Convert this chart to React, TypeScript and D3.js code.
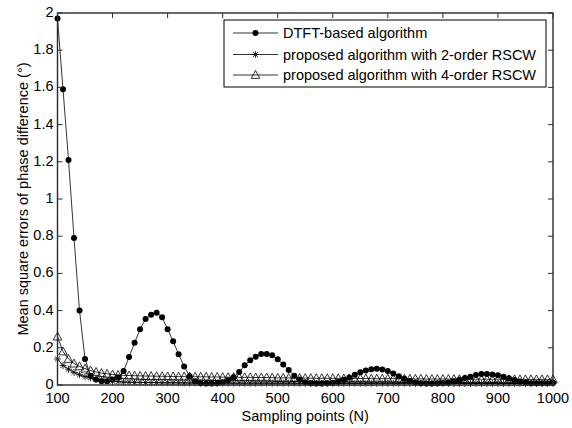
import React from "react";
import * as d3 from "d3";

const samplingPoints: number[] = [
  100, 110, 120, 130, 140, 150, 160, 170, 180, 190,
  200, 210, 220, 230, 240, 250, 260, 270, 280, 290,
  300, 310, 320, 330, 340, 350, 360, 370, 380, 390,
  400, 410, 420, 430, 440, 450, 460, 470, 480, 490,
  500, 510, 520, 530, 540, 550, 560, 570, 580, 590,
  600, 610, 620, 630, 640, 650, 660, 670, 680, 690,
  700, 710, 720, 730, 740, 750, 760, 770, 780, 790,
  800, 810, 820, 830, 840, 850, 860, 870, 880, 890,
  900, 910, 920, 930, 940, 950, 960, 970, 980, 990, 1000,
];

const dtftValues: number[] = [
  1.97, 1.59, 1.21, 0.79, 0.40, 0.14, 0.05, 0.03, 0.02, 0.02,
  0.03, 0.04, 0.075, 0.15, 0.227, 0.30, 0.355, 0.378, 0.389, 0.364,
  0.30, 0.235, 0.165, 0.10, 0.047, 0.02, 0.01, 0.008, 0.008, 0.01,
  0.015, 0.025, 0.041, 0.07, 0.106, 0.133, 0.152, 0.167, 0.167, 0.16,
  0.138, 0.11, 0.08, 0.05, 0.03, 0.015, 0.01, 0.008, 0.008, 0.01,
  0.012, 0.018, 0.028, 0.04, 0.055, 0.068, 0.078, 0.085, 0.087, 0.084,
  0.075, 0.062, 0.047, 0.033, 0.022, 0.014, 0.01, 0.008, 0.008, 0.009,
  0.011, 0.014, 0.02, 0.028, 0.037, 0.045, 0.054, 0.059, 0.059, 0.056,
  0.052, 0.045, 0.036, 0.027, 0.019, 0.013, 0.01, 0.009, 0.009, 0.01, 0.012,
];

const rscw2Values: number[] = [
  0.14, 0.105, 0.085, 0.068, 0.055, 0.045, 0.038, 0.032, 0.027, 0.023,
  0.02, 0.018, 0.016, 0.015, 0.014, 0.014, 0.013, 0.013, 0.013, 0.012,
  0.012, 0.012, 0.012, 0.011, 0.011, 0.011, 0.011, 0.011, 0.011, 0.01,
  0.01, 0.01, 0.01, 0.01, 0.01, 0.01, 0.01, 0.01, 0.01, 0.01,
  0.01, 0.01, 0.01, 0.01, 0.009, 0.009, 0.009, 0.009, 0.009, 0.009,
  0.009, 0.009, 0.009, 0.009, 0.009, 0.009, 0.009, 0.009, 0.009, 0.009,
  0.009, 0.009, 0.009, 0.009, 0.009, 0.008, 0.008, 0.008, 0.008, 0.008,
  0.008, 0.008, 0.008, 0.008, 0.008, 0.008, 0.008, 0.008, 0.008, 0.008,
  0.008, 0.008, 0.008, 0.008, 0.008, 0.008, 0.008, 0.008, 0.008, 0.008, 0.008,
];

const rscw4Values: number[] = [
  0.26, 0.18, 0.14, 0.115, 0.10, 0.088, 0.078, 0.07, 0.064, 0.06,
  0.056, 0.054, 0.052, 0.051, 0.05, 0.049, 0.048, 0.048, 0.047, 0.047,
  0.046, 0.046, 0.045, 0.045, 0.045, 0.044, 0.044, 0.044, 0.043, 0.043,
  0.042, 0.042, 0.042, 0.041, 0.041, 0.041, 0.04, 0.04, 0.04, 0.039,
  0.038, 0.038, 0.038, 0.037, 0.037, 0.037, 0.037, 0.036, 0.036, 0.036,
  0.036, 0.036, 0.035, 0.035, 0.035, 0.035, 0.035, 0.034, 0.034, 0.034,
  0.034, 0.034, 0.033, 0.033, 0.033, 0.033, 0.033, 0.032, 0.032, 0.032,
  0.032, 0.032, 0.032, 0.031, 0.031, 0.031, 0.031, 0.031, 0.031, 0.031,
  0.031, 0.03, 0.03, 0.03, 0.03, 0.03, 0.03, 0.03, 0.03, 0.03, 0.03,
];

const xTicks: number[] = [100, 200, 300, 400, 500, 600, 700, 800, 900, 1000];
const yTicks: number[] = [0, 0.2, 0.4, 0.6, 0.8, 1, 1.2, 1.4, 1.6, 1.8, 2];

const legendLabels: string[] = [
  "DTFT-based algorithm",
  "proposed algorithm with 2-order RSCW",
  "proposed algorithm with 4-order RSCW",
];

const W = 572;
const H = 428;
const L = 57.5;
const R = 553;
const T = 13;
const B = 385;
const FONT = "'Liberation Sans', Arial, Helvetica, sans-serif";
const FS = 14.5;
const AX = "#2a2a2a";

const x = d3.scaleLinear().domain([100, 1000]).range([L, R]);
const y = d3.scaleLinear().domain([0, 2]).range([B, T]);

type Pt = { n: number; v: number };
const mk = (vals: number[]): Pt[] => samplingPoints.map((n, i) => ({ n, v: vals[i] }));

const lineGen = d3
  .line<Pt>()
  .x((d) => x(d.n))
  .y((d) => y(d.v));

const Star = ({ cx, cy, s = 3.5 }: { cx: number; cy: number; s?: number }) => {
  const d = s * 0.72;
  return (
    <path
      d={`M${cx - s},${cy}L${cx + s},${cy}M${cx},${cy - s}L${cx},${cy + s}M${cx - d},${cy - d}L${cx + d},${cy + d}M${cx - d},${cy + d}L${cx + d},${cy - d}`}
      stroke="#000"
      strokeWidth={0.8}
      fill="none"
    />
  );
};

const Tri = ({ cx, cy, s = 4.5 }: { cx: number; cy: number; s?: number }) => (
  <path
    d={`M${cx},${cy - s}L${cx + s * 0.95},${cy + s * 0.75}L${cx - s * 0.95},${cy + s * 0.75}Z`}
    stroke="#000"
    strokeWidth={0.8}
    fill="none"
  />
);

const Dot = ({ cx, cy }: { cx: number; cy: number }) => <circle cx={cx} cy={cy} r={3} fill="#000" />;

export default function App() {
  const dtft = mk(dtftValues);
  const r2 = mk(rscw2Values);
  const r4 = mk(rscw4Values);
  const tickLen = 5;

  const legX = 224;
  const legY = 20;
  const legW = 322;
  const legH = 67;
  const rows = [33, 54.5, 75];

  return (
    <div style={{ position: "absolute", left: 0, top: 0, width: W, height: H, background: "#fff" }}>
      <svg width={W} height={H} style={{ display: "block" }} fontFamily={FONT}>
        <rect x={0} y={0} width={W} height={H} fill="#fff" />

        {/* series */}
        <path d={lineGen(dtft) || ""} fill="none" stroke="#000" strokeWidth={0.8} />
        {dtft.map((d, i) => (
          <Dot key={"d" + i} cx={x(d.n)} cy={y(d.v)} />
        ))}
        <path d={lineGen(r2) || ""} fill="none" stroke="#000" strokeWidth={0.8} />
        {r2.map((d, i) => (
          <Star key={"s" + i} cx={x(d.n)} cy={y(d.v)} />
        ))}
        <path d={lineGen(r4) || ""} fill="none" stroke="#000" strokeWidth={0.8} />
        {r4.map((d, i) => (
          <Tri key={"t" + i} cx={x(d.n)} cy={y(d.v)} />
        ))}

        {/* axes box */}
        <rect x={L} y={T} width={R - L} height={B - T} fill="none" stroke={AX} strokeWidth={1.4} />
        {xTicks.map((t) => (
          <g key={"xt" + t}>
            <line x1={x(t)} x2={x(t)} y1={B} y2={B - tickLen} stroke={AX} strokeWidth={1} />
            <line x1={x(t)} x2={x(t)} y1={T} y2={T + tickLen} stroke={AX} strokeWidth={1} />
            <text x={x(t)} y={402.5} textAnchor="middle" fontSize={FS} fill="#000">
              {t}
            </text>
          </g>
        ))}
        {yTicks.map((t) => (
          <g key={"yt" + t}>
            <line x1={L} x2={L + tickLen} y1={y(t)} y2={y(t)} stroke={AX} strokeWidth={1} />
            <line x1={R} x2={R - tickLen} y1={y(t)} y2={y(t)} stroke={AX} strokeWidth={1} />
            <text x={L - 4} y={y(t) + 4} textAnchor="end" fontSize={FS} fill="#000">
              {String(t)}
            </text>
          </g>
        ))}

        <text x={(L + R) / 2} y={421} textAnchor="middle" fontSize={FS} fill="#000">
          Sampling points (N)
        </text>
        <text
          transform={`translate(28,${(T + B) / 2}) rotate(-90)`}
          textAnchor="middle"
          fontSize={FS}
          fill="#000"
        >
          Mean square errors of phase difference (°)
        </text>

        {/* legend */}
        <rect x={legX} y={legY} width={legW} height={legH} fill="#fff" stroke="#000" strokeWidth={1} />
        {legendLabels.map((lab, i) => (
          <g key={"lg" + i}>
            <line x1={233} x2={278} y1={rows[i]} y2={rows[i]} stroke="#000" strokeWidth={0.8} />
            {i === 0 && <Dot cx={255.5} cy={rows[i]} />}
            {i === 1 && <Star cx={255.5} cy={rows[i]} />}
            {i === 2 && <Tri cx={255.5} cy={rows[i]} />}
            <text x={283} y={rows[i] + 5} fontSize={FS} fill="#000">
              {lab}
            </text>
          </g>
        ))}
      </svg>
    </div>
  );
}
